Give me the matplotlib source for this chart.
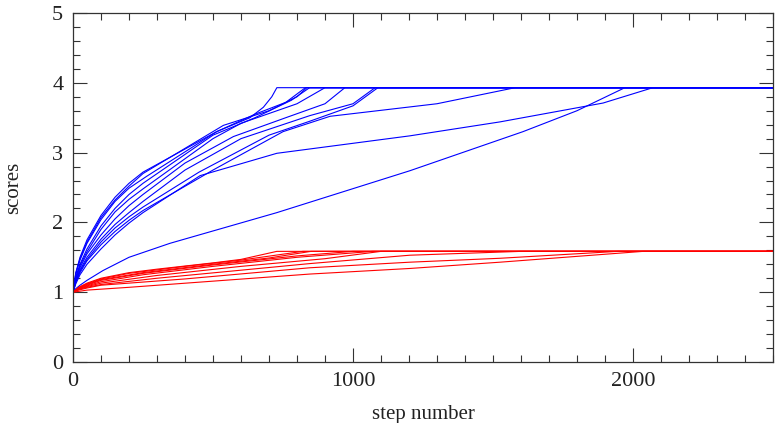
import matplotlib
matplotlib.use("Agg")
import matplotlib.pyplot as plt
from matplotlib.ticker import MultipleLocator

# ---- data ----
blue_x = [
    [0, 10, 25, 50, 100, 150, 200, 250, 513, 632, 680, 710, 728, 2500],
    [0, 10, 25, 50, 100, 150, 200, 250, 537, 700, 800, 835, 2500],
    [0, 10, 25, 50, 100, 150, 200, 263, 513, 650, 760, 830, 2500],
    [0, 10, 25, 50, 100, 150, 200, 250, 500, 650, 780, 845, 2500],
    [0, 10, 25, 50, 100, 150, 200, 250, 500, 600, 800, 900, 2500],
    [0, 10, 25, 50, 100, 150, 200, 250, 400, 573, 760, 900, 971, 2500],
    [0, 10, 25, 50, 100, 150, 200, 250, 400, 600, 846, 1000, 1079, 2500],
    [0, 10, 25, 50, 100, 150, 200, 250, 450, 700, 846, 1000, 1089, 2500],
    [0, 10, 25, 50, 100, 150, 200, 250, 500, 750, 918, 1300, 1579, 2500],
    [0, 10, 25, 50, 100, 150, 200, 250, 454, 728, 1203, 1525, 1893, 2071, 2500],
    [0, 10, 25, 50, 107, 200, 346, 728, 1203, 1607, 1800, 1971, 2500],
]
blue_y = [
    [1, 1.28, 1.50, 1.75, 2.10, 2.36, 2.56, 2.72, 3.30, 3.50, 3.65, 3.80, 3.93, 3.93],
    [1, 1.27, 1.48, 1.72, 2.07, 2.32, 2.52, 2.70, 3.39, 3.60, 3.80, 3.93, 3.93],
    [1, 1.26, 1.46, 1.70, 2.04, 2.30, 2.49, 2.66, 3.30, 3.55, 3.72, 3.93, 3.93],
    [1, 1.22, 1.40, 1.62, 1.95, 2.20, 2.40, 2.56, 3.25, 3.50, 3.75, 3.93, 3.93],
    [1, 1.20, 1.38, 1.58, 1.90, 2.15, 2.33, 2.48, 3.20, 3.42, 3.70, 3.93, 3.93],
    [1, 1.18, 1.35, 1.55, 1.82, 2.05, 2.24, 2.40, 2.85, 3.23, 3.50, 3.70, 3.93, 3.93],
    [1, 1.16, 1.32, 1.50, 1.76, 1.97, 2.14, 2.30, 2.75, 3.20, 3.53, 3.70, 3.93, 3.93],
    [1, 1.15, 1.30, 1.47, 1.72, 1.92, 2.08, 2.22, 2.72, 3.25, 3.45, 3.67, 3.93, 3.93],
    [1, 1.14, 1.28, 1.45, 1.68, 1.87, 2.03, 2.17, 2.75, 3.30, 3.52, 3.70, 3.93, 3.93],
    [1, 1.12, 1.25, 1.40, 1.62, 1.82, 1.99, 2.14, 2.67, 2.99, 3.24, 3.44, 3.71, 3.93, 3.93],
    [1, 1.05, 1.10, 1.17, 1.31, 1.50, 1.70, 2.14, 2.74, 3.30, 3.60, 3.93, 3.93],
]
red_x = [
    [0, 20, 50, 100, 200, 300, 500, 600, 728, 2500],
    [0, 20, 50, 100, 200, 400, 600, 821, 2500],
    [0, 20, 50, 100, 250, 500, 700, 850, 2500],
    [0, 20, 50, 100, 250, 500, 800, 1000, 2500],
    [0, 20, 50, 100, 250, 500, 800, 1071, 2500],
    [0, 20, 50, 100, 300, 600, 900, 1100, 2500],
    [0, 20, 50, 100, 300, 846, 1203, 1600, 2500],
    [0, 20, 50, 100, 400, 846, 1203, 1525, 1946, 2500],
    [0, 50, 200, 846, 1203, 1525, 2036, 2500],
]
red_y = [
    [1, 1.07, 1.13, 1.20, 1.28, 1.33, 1.42, 1.47, 1.585, 1.585],
    [1, 1.06, 1.12, 1.19, 1.27, 1.37, 1.46, 1.585, 1.585],
    [1, 1.06, 1.11, 1.18, 1.28, 1.40, 1.49, 1.585, 1.585],
    [1, 1.05, 1.10, 1.17, 1.27, 1.39, 1.52, 1.585, 1.585],
    [1, 1.05, 1.09, 1.15, 1.25, 1.37, 1.50, 1.585, 1.585],
    [1, 1.04, 1.08, 1.13, 1.24, 1.37, 1.48, 1.585, 1.585],
    [1, 1.04, 1.07, 1.11, 1.20, 1.41, 1.53, 1.585, 1.585],
    [1, 1.03, 1.06, 1.10, 1.19, 1.35, 1.43, 1.486, 1.585, 1.585],
    [1, 1.03, 1.07, 1.26, 1.34, 1.43, 1.585, 1.585],
]
x_label = "step number"
y_label = "scores"

plt.rcParams['font.family'] = ['Liberation Serif', 'DejaVu Serif']

fig = plt.figure(figsize=(7.77, 4.23), dpi=100)
ax = fig.add_axes([73/777, 61/423, 700/777, 349/423])

for xs, ys in zip(blue_x, blue_y):
    ax.plot(xs, ys, color='#0000ff', lw=0.8)
for xs, ys in zip(red_x, red_y):
    ax.plot(xs, ys, color='#ff0000', lw=0.8)

ax.set_xlim(0, 2500)
ax.set_ylim(0, 5)
ax.xaxis.set_major_locator(MultipleLocator(1000))
ax.xaxis.set_minor_locator(MultipleLocator(100))
ax.yaxis.set_major_locator(MultipleLocator(1))
ax.yaxis.set_minor_locator(MultipleLocator(0.2))
ax.tick_params(which='both', direction='in', top=True, right=True,
               color='#333333', width=0.8)
ax.tick_params(which='major', length=10, labelsize=16, pad=7, labelcolor='#222222')
ax.tick_params(which='minor', length=5)
for s in ax.spines.values():
    s.set_color('#333333')
    s.set_linewidth(0.9)

ax.set_xlabel(x_label, fontsize=15, labelpad=10, color='#222222')
ax.set_ylabel(y_label, fontsize=15, labelpad=21, color='#222222')

fig.savefig("out.png", dpi=100)
